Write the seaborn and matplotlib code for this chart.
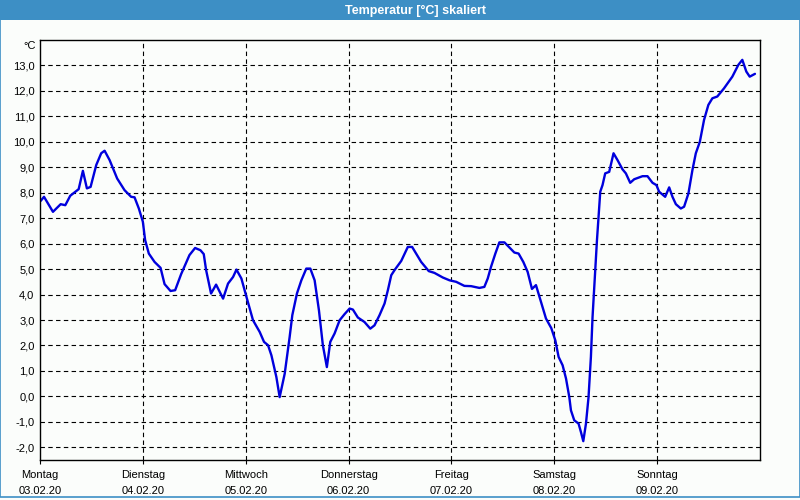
import matplotlib
matplotlib.use("Agg")
import matplotlib.pyplot as plt
import matplotlib.patches as mpatches
import seaborn as sns
import pandas as pd

# ---- data ----
day_names = ["Montag", "Dienstag", "Mittwoch", "Donnerstag", "Freitag", "Samstag", "Sonntag"]
day_dates = ["03.02.20", "04.02.20", "05.02.20", "06.02.20", "07.02.20", "08.02.20", "09.02.20"]
y_ticks = [-2, -1, 0, 1, 2, 3, 4, 5, 6, 7, 8, 9, 10, 11, 12, 13]

# time in days since Monday 03.02.20 00:00
time_days = [
    0.007, 0.039, 0.126, 0.201, 0.246, 0.294, 0.376, 0.417, 0.456, 0.492,
    0.547, 0.595, 0.628, 0.677, 0.750, 0.822, 0.886, 0.919, 0.961, 1.000,
    1.022, 1.058, 1.114, 1.172, 1.211, 1.269, 1.314, 1.372, 1.453, 1.508,
    1.560, 1.592, 1.615, 1.663, 1.712, 1.780, 1.828, 1.877, 1.910, 1.958,
    2.007, 2.071, 2.136, 2.178, 2.217, 2.250, 2.298, 2.330, 2.379, 2.427,
    2.453, 2.498, 2.541, 2.589, 2.628, 2.670, 2.712, 2.750, 2.789, 2.822,
    2.864, 2.913, 2.961, 3.010, 3.042, 3.090, 3.155, 3.211, 3.252, 3.301,
    3.350, 3.382, 3.415, 3.447, 3.512, 3.576, 3.618, 3.657, 3.706, 3.780,
    3.835, 3.916, 3.981, 4.046, 4.126, 4.191, 4.272, 4.320, 4.353, 4.385,
    4.427, 4.466, 4.515, 4.563, 4.612, 4.653, 4.699, 4.741, 4.783, 4.822,
    4.864, 4.919, 4.971, 5.010, 5.042, 5.081, 5.114, 5.146, 5.162, 5.194,
    5.236, 5.259, 5.282, 5.308, 5.333, 5.356, 5.372, 5.398, 5.415, 5.430,
    5.447, 5.469, 5.495, 5.534, 5.576, 5.615, 5.663, 5.696, 5.738, 5.777,
    5.858, 5.906, 5.955, 5.993, 6.019, 6.078, 6.117, 6.149, 6.182, 6.230,
    6.262, 6.304, 6.343, 6.376, 6.415, 6.456, 6.498, 6.537, 6.585, 6.650,
    6.731, 6.789, 6.828, 6.867, 6.900, 6.951,
]
temperature = [
    7.68, 7.84, 7.25, 7.55, 7.51, 7.88, 8.14, 8.86, 8.17, 8.23,
    9.09, 9.55, 9.65, 9.28, 8.56, 8.10, 7.84, 7.82, 7.38, 6.86,
    6.14, 5.61, 5.28, 5.05, 4.41, 4.14, 4.17, 4.80, 5.55, 5.83,
    5.74, 5.59, 4.96, 4.04, 4.39, 3.84, 4.43, 4.69, 4.98, 4.63,
    3.91, 2.99, 2.53, 2.14, 2.01, 1.61, 0.76, -0.03, 0.89, 2.33,
    3.19, 4.04, 4.56, 5.02, 5.02, 4.56, 3.38, 2.01, 1.15, 2.14,
    2.47, 2.99, 3.23, 3.45, 3.41, 3.10, 2.92, 2.66, 2.79, 3.19,
    3.65, 4.17, 4.76, 4.96, 5.32, 5.87, 5.87, 5.61, 5.28, 4.92,
    4.85, 4.67, 4.56, 4.50, 4.34, 4.33, 4.26, 4.30, 4.63, 5.09,
    5.61, 6.05, 6.05, 5.85, 5.65, 5.61, 5.28, 4.89, 4.22, 4.37,
    3.80, 3.06, 2.68, 2.20, 1.55, 1.22, 0.70, -0.03, -0.55, -0.94,
    -1.07, -1.40, -1.76, -1.07, -0.03, 1.55, 3.12, 4.96, 6.14, 7.05,
    8.04, 8.30, 8.76, 8.82, 9.55, 9.28, 8.92, 8.76, 8.39, 8.53,
    8.65, 8.65, 8.39, 8.30, 8.04, 7.84, 8.21, 7.84, 7.55, 7.38,
    7.45, 7.97, 8.89, 9.55, 10.00, 10.86, 11.45, 11.71, 11.78, 12.10,
    12.56, 13.02, 13.22, 12.76, 12.56, 12.67,
]

df = pd.DataFrame({"t": time_days, "temp": temperature})

# ---- style ----
sns.set_theme(style="white")
plt.rcParams["font.family"] = ["Liberation Sans", "DejaVu Sans"]

BG = "#fbfdfb"
BAR = "#3d8fc5"

fig = plt.figure(figsize=(8, 5), dpi=100, facecolor=BG)
ax = fig.add_axes([0.05, 0.08, 0.90, 0.84])
ax.set_facecolor(BG)

sns.lineplot(data=df, x="t", y="temp", ax=ax, color="#0000dd",
             linewidth=1.7, estimator=None, sort=False)

ax.set_xlim(0, 7)
ax.set_ylim(-2.5, 14)

# grid
for d in range(1, 7):
    ax.axvline(d, color="black", linewidth=0.8, linestyle=(0, (4, 3)), zorder=0)
for v in y_ticks:
    ax.axhline(v, color="black", linewidth=0.8, linestyle=(0, (4, 3)), zorder=0)

ax.set_xticks(range(0, 7))
ax.set_xticklabels([f"{n}\n{d}" for n, d in zip(day_names, day_dates)],
                   fontsize=8, color="black", linespacing=1.75)
ax.set_yticks(y_ticks)
ax.set_yticklabels([f"{v},0" for v in y_ticks], fontsize=8, color="black")
ax.tick_params(axis="x", direction="out", length=3, width=0.8, color="black", pad=4, bottom=True)
ax.tick_params(axis="y", length=0, pad=4)

for s in ax.spines.values():
    s.set_color("black")
    s.set_linewidth(1.0)
    s.set_visible(True)

ax.set_xlabel("")
ax.set_ylabel("")
ax.text(-0.0056, 0.986, "°C", transform=ax.transAxes, ha="right", va="center",
        fontsize=8, color="black")

# title bar
fig.patches.append(mpatches.Rectangle((0, 0.96), 1, 0.04, transform=fig.transFigure,
                                      facecolor=BAR, edgecolor="none", zorder=0))
fig.text(415 / 800, 0.979, "Temperatur [°C] skaliert", ha="center", va="center",
         color="white", fontsize=9, fontweight="bold")
# window border
fig.patches.append(mpatches.Rectangle((0.0006, 0.006), 0.9988, 0.99, transform=fig.transFigure,
                                      facecolor="none", edgecolor=BAR, linewidth=1.2, zorder=1))

fig.savefig("out.png", dpi=100, facecolor=BG)
